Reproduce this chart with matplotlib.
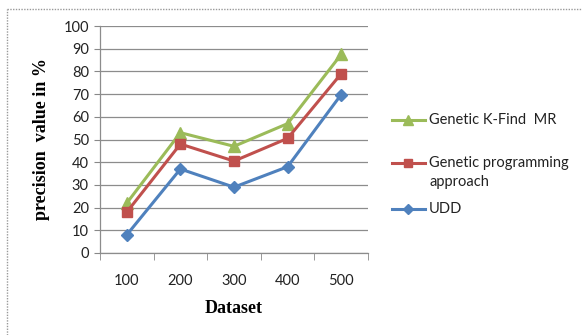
import matplotlib.pyplot as plt
from matplotlib.lines import Line2D

datasets = ['100', '200', '300', '400', '500']
kfind_mr = [22, 53, 47, 57, 87.5]
gp_approach = [18, 48, 40.5, 50.5, 79]
udd = [8, 37, 29, 38, 69.8]

series_labels = ['Genetic K-Find  MR', 'Genetic programming\napproach', 'UDD']

plt.rcParams['font.family'] = ['Lato', 'DejaVu Sans']

W, H = 582, 335
fig = plt.figure(figsize=(W / 100, H / 100), dpi=100)
ax = fig.add_axes([100 / W, 1 - 253 / H, 268 / W, 227 / H])

x = list(range(len(datasets)))
lines = []
lines += ax.plot(x, kfind_mr, color='#9BBB59', marker='^', markersize=8, linewidth=2.2)
lines += ax.plot(x, gp_approach, color='#C0504D', marker='s', markersize=7.5, linewidth=2.2)
lines += ax.plot(x, udd, color='#4F81BD', marker='D', markersize=6, linewidth=2.2)

ax.set_xlim(-0.5, len(datasets) - 0.5)
ax.set_ylim(0, 100)
ax.set_yticks(range(0, 101, 10))
ax.set_xticks(x)
ax.set_xticklabels(datasets)
ax.set_xticks([i - 0.5 for i in range(len(datasets) + 1)], minor=True)
ax.tick_params(axis='x', which='major', length=0, pad=15, labelsize=10.5, colors='#222222')
ax.tick_params(axis='x', which='minor', length=5, color='#888888', direction='out')
ax.tick_params(axis='y', length=4, labelsize=10.5, colors='#222222', pad=4)
ax.tick_params(axis='y', color='#888888')

ax.grid(axis='y', color='#8c8c8c', linewidth=0.9)
ax.set_axisbelow(True)
for side in ['top', 'right']:
    ax.spines[side].set_visible(False)
for side in ['left', 'bottom']:
    ax.spines[side].set_color('#8c8c8c')
    ax.spines[side].set_linewidth(0.9)

ax.set_xlabel('Dataset', family='Liberation Serif', fontweight='bold', fontsize=13, labelpad=9)
ax.set_ylabel('precision  value in %', family='Liberation Serif', fontweight='bold', fontsize=13, labelpad=10)

# legend drawn by hand so the handle sits on the first line of a wrapped label
legend_rows = [120, 163, 209]
for line, label, row in zip(lines, series_labels, legend_rows):
    yf = 1 - row / H
    fig.add_artist(Line2D([392 / W, 425 / W], [yf, yf], color=line.get_color(),
                          linewidth=2.2))
    fig.add_artist(Line2D([408.5 / W], [yf], color=line.get_color(), marker=line.get_marker(),
                          markersize=line.get_markersize() * 0.85, linestyle='none'))
    for k, part in enumerate(label.split('\n')):
        fig.text(429 / W, 1 - (row + 19 * k) / H, part, fontsize=10.5, va='center',
                 ha='left', color='#222222')

# dotted frame on left and top edges of the original image
fig.add_artist(Line2D([7 / W, 7 / W], [0, 1 - 9 / H], color='#999999', linewidth=1.0, linestyle=(0, (1, 1))))
fig.add_artist(Line2D([7 / W, 1], [1 - 9 / H, 1 - 9 / H], color='#999999', linewidth=1.0, linestyle=(0, (1, 1))))

fig.savefig('out.png', dpi=100)
